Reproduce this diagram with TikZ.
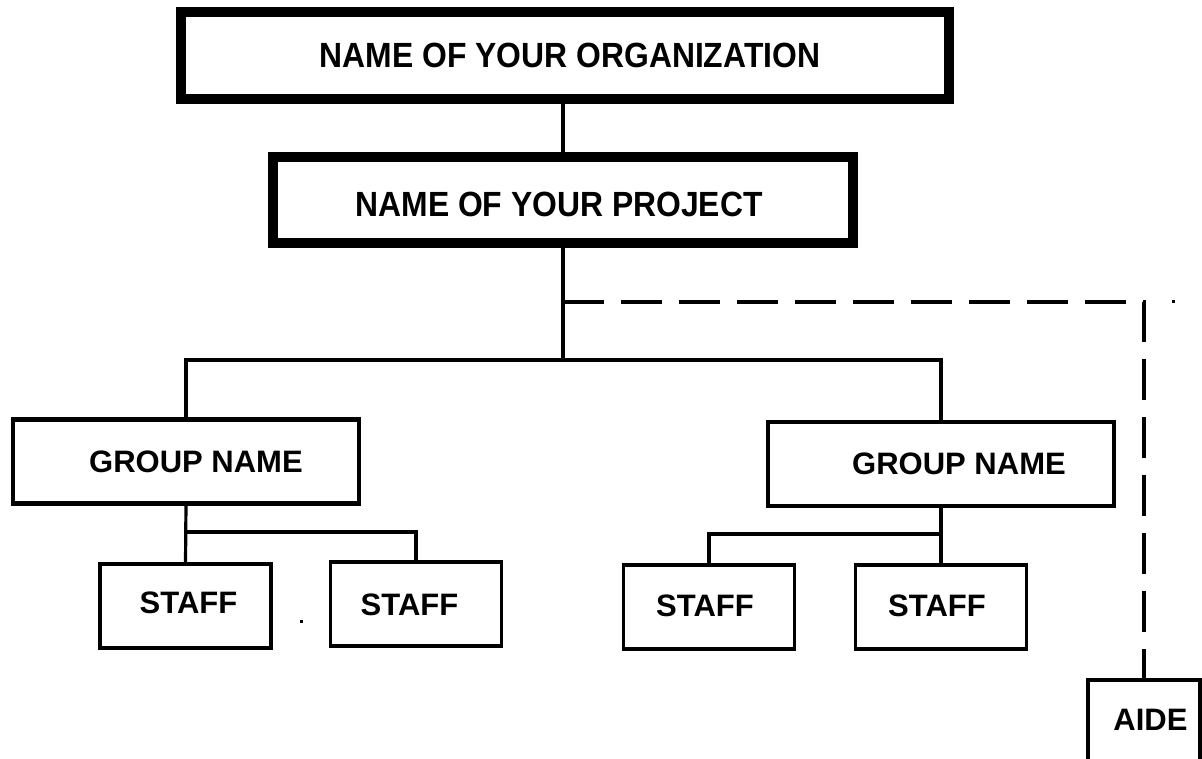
\documentclass[tikz,border=0pt]{standalone}
\usepackage{fontspec}
\setmainfont{Liberation Sans}
\newfontfamily\narrowfont[FakeStretch=0.91]{Liberation Sans}

\begin{document}
\begin{tikzpicture}[x=1pt, y=-1pt,
    topbox/.style={draw, line width=10pt, inner sep=0pt, outer sep=0pt},
    grpbox/.style={draw, line width=4.5pt, inner sep=0pt, outer sep=0pt, minimum width=346pt, minimum height=84pt},
    staffbox/.style={draw, line width=3.5pt, inner sep=0pt, outer sep=0pt, minimum width=171pt, minimum height=84pt},
    toplbl/.style={inner sep=0pt, font=\narrowfont\bfseries\fontsize{35}{42}\selectfont},
    lbl/.style={inner sep=0pt, font=\bfseries\fontsize{31}{37}\selectfont},
    link/.style={line width=3.2pt}]
    \useasboundingbox (0,0) rectangle (1202,759);
    \clip (0,0) rectangle (1202,759);

    % Top two boxes
    \node[topbox, minimum width=768pt, minimum height=87pt,
          label={[toplbl, xshift=5pt]center:NAME OF YOUR ORGANIZATION}] (org) at (565,55.5) {};
    \node[topbox, minimum width=580pt, minimum height=86pt,
          label={[toplbl, xshift=-4pt, yshift=-4.5pt]center:NAME OF YOUR PROJECT}] (proj) at (563,200) {};

    % Groups
    \node[grpbox, label={[lbl, xshift=10pt]center:GROUP NAME}] (lgrp) at (186,461.5) {};
    \node[grpbox, label={[lbl, xshift=18pt]center:GROUP NAME}] (rgrp) at (941,464) {};

    % Staff and aide
    \node[staffbox, label={[lbl, xshift=3pt, yshift=3pt]center:STAFF}] (staffA) at (185.5,606) {};
    \node[staffbox, label={[lbl, xshift=-6.5pt, yshift=-1pt]center:STAFF}] (staffB) at (416,604) {};
    \node[staffbox, label={[lbl, xshift=-4pt, yshift=1.5pt]center:STAFF}] (staffC) at (709,607) {};
    \node[staffbox, label={[lbl, xshift=-4pt, yshift=1.5pt]center:STAFF}] (staffD) at (941,607) {};
    \node[staffbox, minimum width=112pt, minimum height=88pt,
          label={[lbl, xshift=6.5pt, yshift=4pt]center:AIDE}] (aide) at (1144,724) {};

    % Connectors
    \coordinate (tap) at (563,302);
    \coordinate (bus) at (563,360);
    \coordinate (lsplit) at (185.5,532);
    \coordinate (rsplit) at (941,534);

    \draw[link] (proj.north |- org.south) -- (proj.north);
    \draw[link] (proj.south) -- (bus);
    \draw[link] (lgrp.north) |- (bus) -| (rgrp.north);
    \draw[link, dash pattern=on 41pt off 17pt] (tap) -| (aide.north);

    \draw[link] (lgrp.south) -- (staffA.north);
    \draw[link] (lsplit) -| (staffB.north);
    \draw[link] (rgrp.south) -- (staffD.north);
    \draw[link] (rsplit) -| (staffC.north);

    % stray specks
    \fill (1171.5,300.5) rectangle ++(3,3);
    \fill (300,619.5) rectangle ++(3,3);
\end{tikzpicture}
\end{document}
